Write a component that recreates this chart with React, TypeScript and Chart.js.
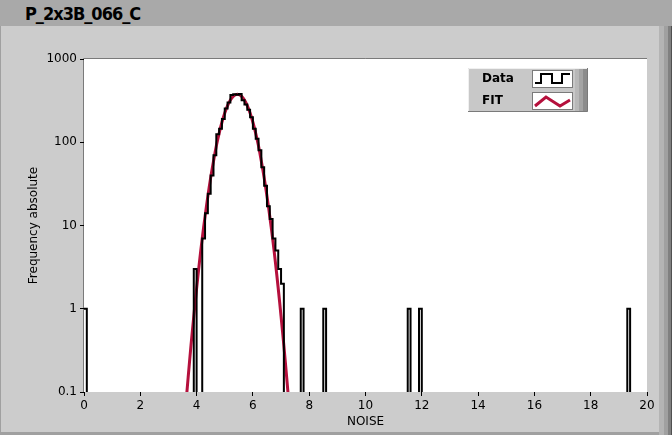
import React, { useEffect, useRef } from 'react';
import { Chart, registerables } from 'chart.js';

Chart.register(...registerables);

const TITLE = 'P_2x3B_066_C';
const X_TITLE = 'NOISE';
const Y_TITLE = 'Frequency absolute';
const LEGEND_LABELS = ['Data', 'FIT'];

// Histogram: bin width 0.1, bins from 0 to 20; non-empty bins listed
const BIN_WIDTH = 0.1;
const N_BINS = 200;
const binStarts = [
  0.0, 3.9, 4.2, 4.3, 4.4, 4.5, 4.6, 4.7, 4.8, 4.9, 5.0, 5.1, 5.2, 5.3, 5.4, 5.5,
  5.6, 5.7, 5.8, 5.9, 6.0, 6.1, 6.2, 6.3, 6.4, 6.5, 6.6, 6.7, 6.8, 6.9, 7.0,
  7.7, 8.5, 11.5, 11.9, 19.3,
];
const binCounts = [
  1, 3, 7, 14, 24, 40, 70, 125, 145, 190, 255, 300, 370, 378, 372, 380,
  320, 285, 245, 200, 145, 110, 80, 50, 30, 17, 12, 7, 5, 3, 2,
  1, 1, 1, 1, 1,
];

// Fit curve
const fitX = [
  3.6, 3.7, 3.8, 3.9, 4.0, 4.1, 4.2, 4.3, 4.4, 4.5, 4.6, 4.7, 4.8, 4.9, 5.0, 5.1,
  5.2, 5.3, 5.4, 5.5, 5.6, 5.7, 5.8, 5.9, 6.0, 6.1, 6.2, 6.3, 6.4, 6.5, 6.6, 6.7,
  6.8, 6.9, 7.0, 7.1, 7.2, 7.3,
];
const fitY = [
  0.06, 0.15, 0.36, 0.81, 1.75, 3.6, 7.0, 12.8, 22.5, 37.5, 59, 90, 128, 174, 224, 275,
  321, 356, 374, 374, 356, 321, 275, 224, 174, 128, 90, 59, 37.5, 22.5, 12.8, 7.0,
  3.6, 1.75, 0.81, 0.36, 0.15, 0.06,
];

const xTicks = [0, 2, 4, 6, 8, 10, 12, 14, 16, 18, 20];
const yTicks = [0.1, 1, 10, 100, 1000];

const EMPTY_FLOOR = 0.01; // empty bins drawn below the axis floor (clipped)

const FONT = '"DejaVu Sans", sans-serif';

const plotDecor = {
  id: 'plotDecor',
  beforeDraw(chart: any) {
    const { ctx, chartArea: a } = chart;
    ctx.save();
    ctx.fillStyle = '#ffffff';
    ctx.fillRect(a.left, a.top, a.right - a.left, a.bottom - a.top);
    ctx.strokeStyle = '#7a7a7a';
    ctx.lineWidth = 1;
    ctx.beginPath();
    ctx.moveTo(a.left - 0.5, a.bottom);
    ctx.lineTo(a.left - 0.5, a.top - 0.5);
    ctx.lineTo(a.right, a.top - 0.5);
    ctx.stroke();
    ctx.restore();
  },
  afterDraw(chart: any) {
    const { ctx } = chart;
    const x0 = 468, y0 = 68, w = 120, h = 44;
    ctx.save();
    ctx.fillStyle = '#c8c8c8';
    ctx.fillRect(x0, y0, w, h);
    ctx.lineWidth = 1;
    ctx.strokeStyle = '#f0f0f0';
    ctx.beginPath();
    ctx.moveTo(x0 + 0.5, y0 + h);
    ctx.lineTo(x0 + 0.5, y0 + 0.5);
    ctx.lineTo(x0 + w, y0 + 0.5);
    ctx.stroke();
    ctx.strokeStyle = '#7a7a7a';
    ctx.beginPath();
    ctx.moveTo(x0, y0 + h - 0.5);
    ctx.lineTo(x0 + w - 0.5, y0 + h - 0.5);
    ctx.lineTo(x0 + w - 0.5, y0);
    ctx.stroke();
    ctx.fillStyle = '#b8b8b8';
    ctx.fillRect(x0 + 107, y0 + 1, 4, h - 2);
    ctx.fillStyle = '#a4a4a4';
    ctx.fillRect(x0 + 111, y0 + 1, 4, h - 2);
    ctx.fillStyle = '#8c8c8c';
    ctx.fillRect(x0 + 115, y0 + 1, 4, h - 2);
    ctx.fillStyle = '#000';
    ctx.font = 'bold 12px ' + FONT;
    ctx.textBaseline = 'middle';
    ctx.fillText(LEGEND_LABELS[0], x0 + 14, y0 + 11);
    ctx.fillText(LEGEND_LABELS[1], x0 + 14, y0 + 33);
    const bx = x0 + 64, bw = 41, bh = 18;
    [y0 + 2, y0 + 24].forEach((by) => {
      ctx.fillStyle = '#ffffff';
      ctx.fillRect(bx, by, bw, bh);
      ctx.strokeStyle = '#7a7a7a';
      ctx.strokeRect(bx + 0.5, by + 0.5, bw - 1, bh - 1);
    });
    ctx.strokeStyle = '#000';
    ctx.lineWidth = 2;
    ctx.beginPath();
    const yl = y0 + 15, yh = y0 + 6;
    ctx.moveTo(bx + 3, yl);
    ctx.lineTo(bx + 9, yl);
    ctx.lineTo(bx + 9, yh);
    ctx.lineTo(bx + 20, yh);
    ctx.lineTo(bx + 20, yl);
    ctx.lineTo(bx + 30, yl);
    ctx.lineTo(bx + 30, yh);
    ctx.lineTo(bx + 38, yh);
    ctx.stroke();
    ctx.strokeStyle = '#b5103c';
    ctx.lineWidth = 3;
    ctx.beginPath();
    ctx.moveTo(bx + 3, y0 + 38);
    ctx.lineTo(bx + 14, y0 + 29);
    ctx.lineTo(bx + 28, y0 + 38);
    ctx.lineTo(bx + 38, y0 + 32);
    ctx.stroke();
    ctx.restore();
  },
};

export default function App() {
  const ref = useRef<HTMLCanvasElement | null>(null);

  useEffect(() => {
    if (!ref.current) return;
    const countByIndex: Record<number, number> = {};
    binStarts.forEach((b, i) => {
      countByIndex[Math.round(b / BIN_WIDTH)] = binCounts[i];
    });
    const histPoints: { x: number; y: number }[] = [];
    for (let i = 0; i <= N_BINS; i++) {
      const c = countByIndex[i];
      histPoints.push({ x: +(i * BIN_WIDTH).toFixed(2), y: c && c > 0 ? c : EMPTY_FLOOR });
    }
    const fitPoints = fitX.map((x, i) => ({ x, y: fitY[i] }));

    const tickFont = { family: FONT, size: 12 };

    const chart = new Chart(ref.current, {
      type: 'line',
      data: {
        datasets: [
          {
            label: LEGEND_LABELS[0],
            data: histPoints,
            stepped: true,
            borderColor: '#000000',
            borderWidth: 2,
            pointRadius: 0,
            fill: false,
          },
          {
            label: LEGEND_LABELS[1],
            data: fitPoints,
            borderColor: '#b5103c',
            borderWidth: 3,
            pointRadius: 0,
            tension: 0.4,
            fill: false,
          },
        ],
      },
      options: {
        responsive: false,
        animation: false,
        devicePixelRatio: 1,
        layout: { padding: { top: 59, right: 25, left: 0, bottom: 0 } },
        plugins: { legend: { display: false }, tooltip: { enabled: false } },
        scales: {
          x: {
            type: 'linear',
            min: 0,
            max: 20,
            afterBuildTicks: (s: any) => {
              s.ticks = xTicks.map((v) => ({ value: v }));
            },
            afterFit: (s: any) => {
              s.height = 43;
            },
            ticks: { font: tickFont, color: '#000', padding: 3, maxRotation: 0, autoSkip: false },
            grid: { drawOnChartArea: false, tickLength: 4, color: '#000', tickColor: '#000' },
            border: { display: false },
            title: {
              display: true,
              text: X_TITLE,
              font: tickFont,
              color: '#000',
              padding: { top: 0, bottom: 6 },
            },
          },
          y: {
            type: 'logarithmic',
            min: 0.1,
            max: 1000,
            afterBuildTicks: (s: any) => {
              s.ticks = yTicks.map((v) => ({ value: v }));
            },
            afterFit: (s: any) => {
              s.width = 84;
            },
            ticks: {
              font: tickFont,
              color: '#000',
              padding: 3,
              autoSkip: false,
              callback: (v: any) => String(v),
            },
            grid: { drawOnChartArea: false, tickLength: 4, color: '#000', tickColor: '#000' },
            border: { display: false },
            title: {
              display: true,
              text: Y_TITLE,
              font: tickFont,
              color: '#000',
              padding: { top: 27, bottom: 0 },
            },
          },
        },
      },
      plugins: [plotDecor],
    });
    return () => chart.destroy();
  }, []);

  return (
    <div style={{ position: 'fixed', left: 0, top: 0, width: 672, height: 435, background: '#cccccc', overflow: 'hidden' }}>
      <div style={{ position: 'absolute', left: 0, top: 0, width: 672, height: 26, background: '#a9a9a9' }} />
      <div
        style={{
          position: 'absolute',
          left: 25,
          top: 3,
          fontFamily: '"DejaVu Sans Condensed", "DejaVu Sans", sans-serif',
          fontWeight: 'bold',
          fontSize: 18,
          letterSpacing: '-1px',
          lineHeight: '22px',
          color: '#000',
        }}
      >
        {TITLE}
      </div>
      <div style={{ position: 'absolute', left: 0, top: 26, width: 1, height: 409, background: '#a0a0a0' }} />
      <div style={{ position: 'absolute', left: 659, top: 26, width: 5, height: 409, background: '#b4b4b4' }} />
      <div style={{ position: 'absolute', left: 664, top: 26, width: 4, height: 409, background: '#a0a0a0' }} />
      <div style={{ position: 'absolute', left: 668, top: 26, width: 3, height: 409, background: '#808080' }} />
      <div style={{ position: 'absolute', left: 671, top: 26, width: 1, height: 409, background: '#505050' }} />
      <div style={{ position: 'absolute', left: 0, top: 432, width: 659, height: 3, background: '#a0a0a0' }} />
      <canvas ref={ref} width={672} height={435} style={{ position: 'absolute', left: 0, top: 0 }} />
    </div>
  );
}
